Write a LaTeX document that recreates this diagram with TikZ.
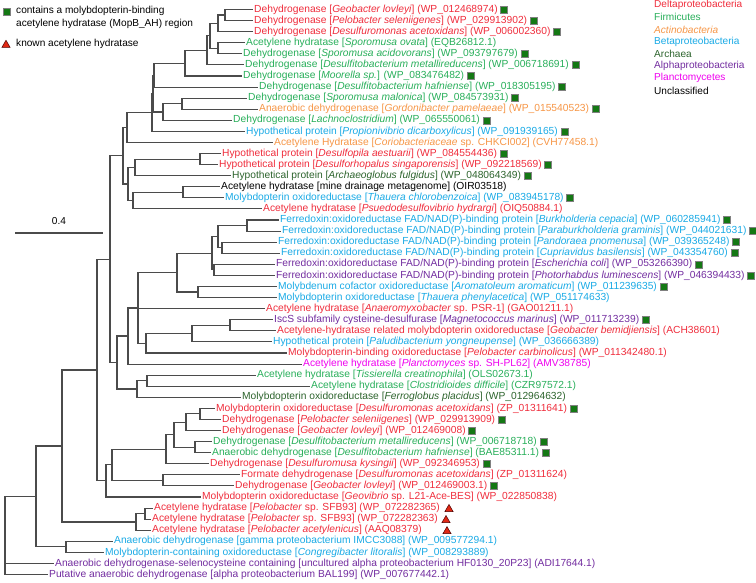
\documentclass[tikz,border=0pt]{standalone}
\usepackage{fontspec}
\setmainfont{Liberation Sans}
\usetikzlibrary{calc,shapes.geometric}
\definecolor{cdelta}{RGB}{240,45,60}
\definecolor{cfirm}{RGB}{40,175,90}
\definecolor{cact}{RGB}{247,150,70}
\definecolor{cbeta}{RGB}{25,170,230}
\definecolor{carch}{RGB}{45,100,45}
\definecolor{calpha}{RGB}{115,45,160}
\definecolor{cplanc}{RGB}{240,0,240}
\definecolor{brc}{RGB}{75,75,75}
\definecolor{boxg}{RGB}{20,120,20}
\definecolor{trir}{RGB}{225,40,20}
\newcommand\leafrow[4]{%
  \coordinate (L#1) at (#2, {9.5+(#1-1)*11.08});
  \node[lab, text=#3] (T#1) at ([xshift=2pt]L#1) {#4};
  \draw[br] (L#1) -- ++(-1,0);}
\newcommand\bx[1]{\node[gbox,anchor=west] (B#1) at ([xshift=2.5pt]T#1.east) {};}
\newcommand\trimark[2]{\node[tri] (R#1) at (#2, {10.6+(#1-1)*11.08}) {};}
\newcommand\inode[4]{%
  \path let \p1=(#3), \p2=(#4), \p3=(#2,0) in coordinate (#1) at (\x3, {(\y1+\y2)/2});
  \draw[br] (#1 |- #3) -- (#1 |- #4);
  \draw[br] (#1 |- #3) -- (#3);
  \draw[br] (#1 |- #4) -- (#4);}
\newcommand\xbranch[2]{\draw[br] (#1 |- #2) -- (#2);}
\begin{document}
\begin{tikzpicture}[x=1pt,y=-1pt,
  br/.style={draw=brc, line width=1.1pt, line cap=rect},
  lab/.style={anchor=west, inner sep=0pt, text height=7.3pt, text depth=2pt, font=\fontsize{10.25}{11}\selectfont},
  gbox/.style={draw=gray, fill=boxg, minimum size=7pt, inner sep=0pt, line width=0.6pt},
  tri/.style={regular polygon, regular polygon sides=3, draw=black!70!red, fill=trir, minimum size=9.5pt, inner sep=0pt, line width=0.5pt},
  leg/.style={anchor=west, inner sep=0pt, font=\fontsize{10.1}{11}\selectfont}]
\useasboundingbox (0,0) rectangle (756,582);
\fill[white] (0,0) rectangle (756,582);
% legend top left
\node[gbox] (lgbox) at (6.5,11.5) {};
\node[leg] (lg1) at (16,11) {contains a molybdopterin-binding};
\node[leg] (lg2) at (16,23.5) {acetylene hydratase (MopB\_AH) region};
\node[tri] (lgtri) at (6,45) {};
\node[leg] (lg3) at (16,44) {known acetylene hydratase};
% legend right
\node[leg, text=cdelta] (c1) at (654,5) {Deltaproteobacteria};
\node[leg, text=cfirm] (c2) at (654,17.2) {Firmicutes};
\node[leg, text=cact] (c3) at (654,29.4) {\textit{Actinobacteria}};
\node[leg, text=cbeta] (c4) at (654,41.6) {Betaproteobacteria};
\node[leg, text=carch] (c5) at (654,53.8) {Archaea};
\node[leg, text=calpha] (c6) at (654,66) {Alphaproteobacteria};
\node[leg, text=cplanc] (c7) at (654,78.2) {Planctomycetes};
\node[leg, text=black] (c8) at (654,90.4) {Unclassified};
% scale bar
\coordinate (s1) at (15,233); \coordinate (s2) at (103,233);
\draw[br, line cap=butt] (s1) -- (s2);
\node[font=\fontsize{10.1}{11}\selectfont, inner sep=0pt] (sl) at (59,221.5) {0.4};
% leaves
\leafrow{1}{252}{cdelta}{Dehydrogenase [\textit{Geobacter lovleyi}] (WP\_012468974)}\bx{1}
\leafrow{2}{252}{cdelta}{Dehydrogenase [\textit{Pelobacter seleniigenes}] (WP\_029913902)}\bx{2}
\leafrow{3}{252}{cdelta}{Dehydrogenase [\textit{Desulfuromonas acetoxidans}] (WP\_006002360)}\bx{3}
\leafrow{4}{244}{cfirm}{Acetylene hydratase [\textit{Sporomusa ovata}] (EQB26812.1)}
\leafrow{5}{241}{cfirm}{Dehydrogenase [\textit{Sporomusa acidovorans}] (WP\_093797679)}\bx{5}
\leafrow{6}{243}{cfirm}{Dehydrogenase [\textit{Desulfitobacterium metallireducens}] (WP\_006718691)}\bx{6}
\leafrow{7}{241}{cfirm}{Dehydrogenase [\textit{Moorella sp.}] (WP\_083476482)}\bx{7}
\leafrow{8}{257}{cfirm}{Dehydrogenase [\textit{Desulfitobacterium hafniense}] (WP\_018305195)}\bx{8}
\leafrow{9}{246}{cfirm}{Dehydrogenase [\textit{Sporomusa malonica}] (WP\_084573931)}\bx{9}
\leafrow{10}{257}{cact}{Anaerobic dehydrogenase [\textit{Gordonibacter pamelaeae}] (WP\_015540523)}\bx{10}
\leafrow{11}{231}{cfirm}{Dehydrogenase [\textit{Lachnoclostridium}] (WP\_065550061)}\bx{11}
\leafrow{12}{244}{cbeta}{Hypothetical protein [\textit{Propionivibrio dicarboxylicus}] (WP\_091939165)}\bx{12}
\leafrow{13}{272}{cact}{Acetylene Hydratase [\textit{Coriobacteriaceae} sp. CHKCI002] (CVH77458.1)}
\leafrow{14}{220}{cdelta}{Hypothetical protein [\textit{Desulfopila aestuarii}] (WP\_084554436)}\bx{14}
\leafrow{15}{217}{cdelta}{Hypothetical protein [\textit{Desulforhopalus singaporensis}] (WP\_092218569)}\bx{15}
\leafrow{16}{230}{carch}{Hypothetical protein [\textit{Archaeoglobus fulgidus}] (WP\_048064349)}\bx{16}
\leafrow{17}{219}{black}{Acetylene hydratase [mine drainage metagenome] (OIR03518)}
\leafrow{18}{223}{cbeta}{Molybdopterin oxidoreductase [\textit{Thauera chlorobenzoica}] (WP\_083945178)}\bx{18}
\leafrow{19}{261}{cdelta}{Acetylene hydratase [\textit{Psuedodesulfovibrio hydrargi}] (OIQ50884.1)}
\leafrow{20}{278}{cbeta}{Ferredoxin:oxidoreductase FAD/NAD(P)-binding protein [\textit{Burkholderia cepacia}] (WP\_060285941)}\bx{20}
\leafrow{21}{280}{cbeta}{Ferredoxin:oxidoreductase FAD/NAD(P)-binding protein [\textit{Paraburkholderia graminis}] (WP\_044021631)}\bx{21}
\leafrow{22}{276}{cbeta}{Ferredoxin:oxidoreductase FAD/NAD(P)-binding protein [\textit{Pandoraea pnomenusa}] (WP\_039365248)}\bx{22}
\leafrow{23}{279}{cbeta}{Ferredoxin:oxidoreductase FAD/NAD(P)-binding protein [\textit{Cupriavidus basilensis}] (WP\_043354760)}\bx{23}
\leafrow{24}{274}{calpha}{Ferredoxin:oxidoreductase FAD/NAD(P)-binding protein [\textit{Escherichia coli}] (WP\_053266390)}\bx{24}
\leafrow{25}{274}{calpha}{Ferredoxin:oxidoreductase FAD/NAD(P)-binding protein [\textit{Photorhabdus luminescens}] (WP\_046394433)}\bx{25}
\leafrow{26}{276}{cbeta}{Molybdenum cofactor oxidoreductase [\textit{Aromatoleum aromaticum}] (WP\_011239635)}\bx{26}
\leafrow{27}{276}{cbeta}{Molybdopterin oxidoreductase [\textit{Thauera phenylacetica}] (WP\_051174633)}
\leafrow{28}{264}{cdelta}{Acetylene hydratase [\textit{Anaeromyxobacter} sp. PSR-1] (GAO01211.1)}
\leafrow{29}{272}{calpha}{IscS subfamily cysteine-desulfurase [\textit{Magnetococcus marinus}] (WP\_011713239)}\bx{29}
\leafrow{30}{275}{cdelta}{Acetylene-hydratase related molybdopterin oxidoreductase [\textit{Geobacter bemidjiensis}] (ACH38601)}
\leafrow{31}{271}{cbeta}{Hypothetical protein [\textit{Paludibacterium yongneupense}] (WP\_036666389)}
\leafrow{32}{286}{cdelta}{Molybdopterin-binding oxidoreductase [\textit{Pelobacter carbinolicus}] (WP\_011342480.1)}
\leafrow{33}{301}{cplanc}{Acetylene hydratase [\textit{Planctomyces} sp. SH-PL62] (AMV38785)}
\leafrow{34}{255}{cfirm}{Acetylene hydratase [\textit{Tissierella creatinophila}] (OLS02673.1)}
\leafrow{35}{309}{cfirm}{Acetylene hydratase [\textit{Clostridioides difficile}] (CZR97572.1)}
\leafrow{36}{240}{carch}{Molybdopterin oxidoreductase [\textit{Ferroglobus placidus}] (WP\_012964632)}
\leafrow{37}{214}{cdelta}{Molybdopterin oxidoreductase [\textit{Desulfuromonas acetoxidans}] (ZP\_01311641)}\bx{37}
\leafrow{38}{220}{cdelta}{Dehydrogenase [\textit{Pelobacter seleniigenes}] (WP\_029913909)}\bx{38}
\leafrow{39}{220}{cdelta}{Dehydrogenase [\textit{Geobacter lovleyi}] (WP\_012469008)}\bx{39}
\leafrow{40}{211}{cfirm}{Dehydrogenase [\textit{Desulfitobacterium metallireducens}] (WP\_006718718)}\bx{40}
\leafrow{41}{210}{cfirm}{Anaerobic dehydrogenase [\textit{Desulfitobacterium hafniense}] (BAE85311.1)}\bx{41}
\leafrow{42}{208}{cdelta}{Dehydrogenase [\textit{Desulfuromusa kysingii}] (WP\_092346953)}\bx{42}
\leafrow{43}{239}{cdelta}{Formate dehydrogenase [\textit{Desulfuromonas acetoxidans}] (ZP\_01311624)}
\leafrow{44}{233}{cdelta}{Dehydrogenase [\textit{Geobacter lovleyi}] (WP\_012469003.1)}\bx{44}
\leafrow{45}{200}{cdelta}{Molybdopterin oxidoreductase [\textit{Geovibrio} sp. L21-Ace-BES] (WP\_022850838)}
\leafrow{46}{152}{cdelta}{Acetylene hydratase [\textit{Pelobacter} sp. SFB93] (WP\_072282365)}\trimark{46}{449}
\leafrow{47}{150}{cdelta}{Acetylene hydratase [\textit{Pelobacter} sp. SFB93] (WP\_072282363)}\trimark{47}{446}
\leafrow{48}{150}{cdelta}{Acetylene hydratase [\textit{Pelobacter acetylenicus}] (AAQ08379)}\trimark{48}{447}
\leafrow{49}{112}{cbeta}{Anaerobic dehydrogenase [gamma proteobacterium IMCC3088] (WP\_009577294.1)}
\leafrow{50}{103}{cbeta}{Molybdopterin-containing oxidoreductase [\textit{Congregibacter litoralis}] (WP\_008293889)}
\leafrow{51}{53}{calpha}{Anaerobic dehydrogenase-selenocysteine containing [uncultured alpha proteobacterium HF0130\_20P23] (ADI17644.1)}
\leafrow{52}{47}{calpha}{Putative anaerobic dehydrogenase [alpha proteobacterium BAL199] (WP\_007677442.1)}
% internal nodes
\inode{nA}{225}{L1}{L2}
\inode{nB3}{218}{nA}{L3}
\inode{nC45}{218}{L4}{L5}
\inode{nD}{210}{nB3}{nC45}
\inode{nE}{207}{nD}{L6}
\inode{nF}{185}{nE}{L7}
\inode{nG1}{154}{nF}{L8}
\inode{n910}{182}{L9}{L10}
\inode{n911}{163}{n910}{L11}
\inode{nG2}{153}{nG1}{n911}
\inode{nG}{152}{nG2}{L12}
\inode{nT1}{127}{nG}{L13}
\inode{n1415}{200}{L14}{L15}
\inode{n1416}{135}{n1415}{L16}
\inode{n1718}{183}{L17}{L18}
\inode{n1719}{133}{n1718}{L19}
\inode{nT2}{128}{n1416}{n1719}
\inode{nT0}{123}{nT1}{nT2}
\inode{n2021}{247}{L20}{L21}
\inode{n2223}{222}{L22}{L23}
\inode{nFa}{218}{n2021}{n2223}
\inode{n2425}{214}{L24}{L25}
\inode{nFer}{212}{nFa}{n2425}
\inode{n2627}{198}{L26}{L27}
\inode{nR}{177}{nFer}{n2627}
\inode{n2930}{230}{L29}{L30}
\inode{n2931}{192}{n2930}{L31}
\inode{n146}{146}{n2931}{L32}
\inode{nP}{138}{nR}{n146}\xbranch{nP}{L28}
\inode{nQ}{128}{nP}{L33}
\inode{n3435}{147}{L34}{L35}
\inode{n3436}{137}{n3435}{L36}
\inode{nS}{117}{nQ}{n3436}
\inode{nU}{110}{nT0}{nS}
\inode{n3738}{200}{L37}{L38}
\inode{nX2}{186}{n3738}{L39}
\inode{n4041}{195}{L40}{L41}
\inode{nX1}{174}{nX2}{n4041}
\inode{nX}{166}{nX1}{L42}
\inode{n4344}{163}{L43}{L44}
\inode{nW1}{112}{nX}{n4344}
\inode{nW}{106}{nW1}{L45}
\inode{nV}{97}{nU}{nW}
\inode{n4647}{145}{L46}{L47}
\inode{nSFB}{136}{n4647}{L48}
\inode{nC}{62}{nV}{nSFB}
\inode{n4950}{66}{L49}{L50}
\inode{nBB}{36}{nC}{n4950}
\inode{root}{5}{nBB}{L52}\xbranch{root}{L51}
\end{tikzpicture}
\end{document}
